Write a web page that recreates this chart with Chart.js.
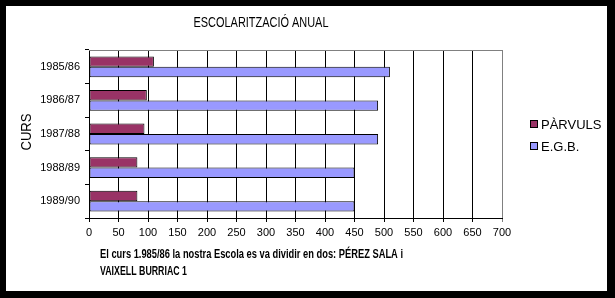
<!DOCTYPE html>
<html>
<head>
<meta charset="utf-8">
<script src="https://cdn.jsdelivr.net/npm/chart.js@4"></script>
<style>
  html, body { margin: 0; padding: 0; background: #000; }
  #wrap { position: absolute; left: 6px; top: 6px; width: 601px; height: 285px; background: #fff; }
</style>
</head>
<body>
<div id="wrap"><canvas id="myChart" width="601" height="285"></canvas></div>
<script>
const courses = ["1985/86", "1986/87", "1987/88", "1988/89", "1989/90"];
const parvuls = [110, 98, 94, 82, 82];
const egb = [510, 490, 490, 450, 450];
const seriesNames = ["PÀRVULS", "E.G.B."];
const seriesColors = ["#993366", "#9999FF"];
const xMin = 0, xMax = 700, xStep = 50;
const titleText = "ESCOLARITZACIÓ ANUAL";
const axisTitle = "CURS";
const noteLines = [
  "El curs 1.985/86 la nostra Escola es va dividir en dos: PÉREZ SALA i",
  "VAIXELL BURRIAC 1",
];

const FONT = "'Liberation Sans', Arial, sans-serif";

// draw text squeezed to a given width
const fitText = (ctx, text, x, y, width) => {
  const w = ctx.measureText(text).width;
  ctx.save();
  ctx.translate(x, y);
  ctx.scale(width / w, 1);
  ctx.fillText(text, 0, 0);
  ctx.restore();
};

const extras = {
  id: "extras",
  afterDraw(chart) {
    const ctx = chart.ctx;
    const { left, right, top } = chart.chartArea;
    ctx.save();
    // grey frame top
    ctx.strokeStyle = "#808080";
    ctx.lineWidth = 1;
    ctx.beginPath();
    ctx.moveTo(left, top + 0.5);
    ctx.lineTo(right, top + 0.5);
    ctx.stroke();

    ctx.fillStyle = "#000";
    ctx.textBaseline = "middle";

    // title
    ctx.font = "14px " + FONT;
    ctx.textAlign = "center";
    fitText(ctx, titleText, 255, 17, 135);

    // y axis title
    ctx.save();
    ctx.translate(21, 126);
    ctx.rotate(-Math.PI / 2);
    ctx.font = "14px " + FONT;
    fitText(ctx, axisTitle, 0, 0, 37);
    ctx.restore();

    // legend
    ctx.textAlign = "left";
    ctx.font = "13px " + FONT;
    seriesNames.forEach((name, i) => {
      const cy = 118 + i * 22;
      ctx.fillStyle = seriesColors[i];
      ctx.fillRect(524.5, cy - 3.5, 7, 7);
      ctx.strokeStyle = "#000";
      ctx.strokeRect(524.5, cy - 3.5, 7, 7);
      ctx.fillStyle = "#000";
      ctx.fillText(name, 535, cy + 1);
    });

    // footnote
    ctx.font = "bold 12px " + FONT;
    fitText(ctx, noteLines[0], 94, 249, 303);
    fitText(ctx, noteLines[1], 94, 266, 87);
    ctx.restore();
  },
};

const ctx = document.getElementById("myChart").getContext("2d");
new Chart(ctx, {
  type: "bar",
  data: {
    labels: courses,
    datasets: [
      { label: seriesNames[0], data: parvuls, backgroundColor: seriesColors[0] },
      { label: seriesNames[1], data: egb, backgroundColor: seriesColors[1] },
    ].map((d) => ({
      ...d,
      borderColor: "#000",
      borderWidth: 1,
      borderSkipped: false,
      categoryPercentage: 0.62,
      barPercentage: 1.0,
    })),
  },
  options: {
    indexAxis: "y",
    responsive: false,
    animation: false,
    layout: { padding: { left: 0, right: 105, top: 44, bottom: 53 } },
    plugins: { legend: { display: false }, title: { display: false }, tooltip: { enabled: false } },
    scales: {
      x: {
        min: xMin,
        max: xMax,
        ticks: {
          stepSize: xStep,
          color: "#000",
          padding: 4,
          maxRotation: 0,
          font: { family: FONT, size: 11 },
        },
        grid: {
          color: (c) => (c.tick && c.tick.value === xMax ? "#808080" : "#000"),
          tickLength: 4,
        },
        border: { color: "#000" },
        afterFit: (s) => { s.height = 20; },
      },
      y: {
        ticks: { color: "#000", padding: 5, font: { family: FONT, size: 11 } },
        grid: { drawOnChartArea: false, color: "#000", tickLength: 4, offset: true },
        border: { color: "#000" },
        afterFit: (s) => { s.width = 83; },
      },
    },
  },
  plugins: [extras],
});
</script>
</body>
</html>
